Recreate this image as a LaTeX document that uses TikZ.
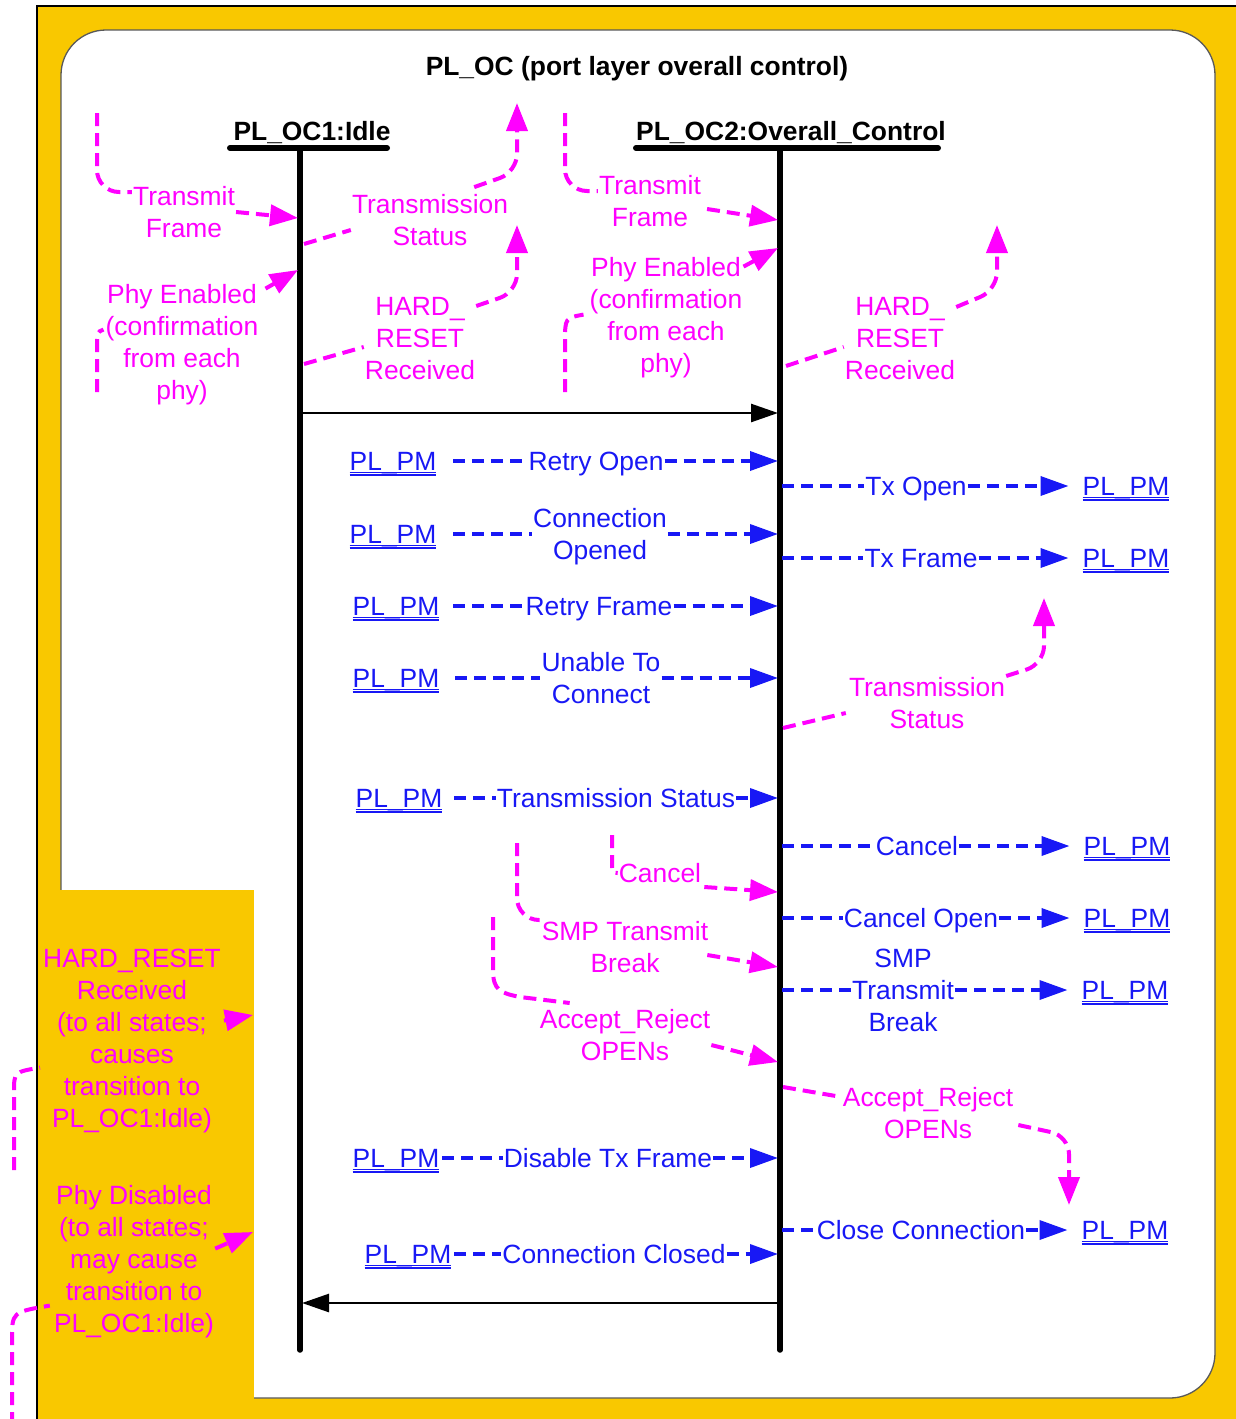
\documentclass[tikz,border=0pt]{standalone}
\usepackage{fontspec}
\setmainfont{Liberation Sans}
\usetikzlibrary{arrows.meta,calc}
\definecolor{ylw}{RGB}{249,200,0}
\definecolor{mag}{RGB}{255,0,255}
\definecolor{blu}{RGB}{24,24,245}
\newcommand\dblu[1]{\setbox0=\hbox{#1}\rlap{\rule[-2.2pt]{\wd0}{1.1pt}}\rlap{\rule[-5pt]{\wd0}{1.1pt}}\box0}
\begin{document}
\begin{tikzpicture}[x=1pt,y=-1pt,
  every node/.style={font=\fontsize{26.4}{32}\selectfont, align=center, inner sep=1pt},
  one/.style={text height=19pt, text depth=0pt},
  mlab/.style={text=mag},
  blab/.style={text=blu},
  pmnode/.style={text=blu, inner sep=0pt, text height=19pt, text depth=0pt},
  ttl/.style={font=\fontsize{26.4}{32}\selectfont\bfseries, text height=19pt, text depth=0pt},
  mline/.style={draw=mag, line width=4pt, dash pattern=on 13pt off 7pt},
  marr/.style={mline, -{Triangle[length=28pt,width=21pt]}},
  bline/.style={draw=blu, line width=3.6pt, dash pattern=on 12pt off 7pt},
  barr/.style={bline, -{Triangle[length=28pt,width=19pt]}},
  life/.style={line width=5.5pt, line cap=round},
  lbar/.style={line width=6pt, line cap=round},
  karr/.style={line width=2.6pt, -{Triangle[length=27pt,width=18pt]}},
]
\useasboundingbox (0,0) rectangle (1236,1419);
\clip (0,0) rectangle (1236,1419);
\fill[white] (0,0) rectangle (1236,1419);
% frames
\filldraw[fill=ylw, draw=black, line width=1.6pt] (37,6) rectangle (1260,1440);
\filldraw[fill=white, draw=black!65, line width=1.3pt, rounded corners=45pt] (61,30) rectangle (1215,1398);
\fill[ylw] (37.9,890) rectangle (254,1430);

% titles
\node[ttl] (t0) at (637,66) {PL\_OC (port layer overall control)};
\node[ttl] (t1) at (312,131) {PL\_OC1:Idle};
\node[ttl] (t2) at (791,131) {PL\_OC2:Overall\_Control};

% lifelines
\coordinate (a0) at (300,148); \coordinate (a1) at (300,1350);
\coordinate (b0) at (780,148); \coordinate (b1) at (780,1350);
\draw[life] (a0) -- (a1);
\draw[life] (b0) -- (b1);
\draw[lbar] (230,148) -- (387,148);
\draw[lbar] (636,148) -- (938,148);

% black transitions
\coordinate (k1) at (302,413); \coordinate (k2) at (778,413);
\coordinate (k3) at (778,1303); \coordinate (k4) at (302,1303);
\draw[karr] (k1) -- (k2);
\draw[karr] (k3) -- (k4);

% ---------- blue messages, left side ----------
\node[pmnode] (p1) at (393,461) {\dblu{PL\_PM}};
\node[blab,one] (r1) at (596,461) {Retry Open};
\coordinate (e1) at (778,461);
\draw[bline, shorten <=17pt] (p1) -- (r1.west |- p1);
\draw[barr] (r1.east |- p1) -- (e1);

\node[pmnode] (p2) at (393,534) {\dblu{PL\_PM}};
\node[blab] (r2) at (600,536.6) {Connection\\Opened};
\coordinate (e2) at (778,534);
\draw[bline, shorten <=17pt] (p2) -- (r2.west |- p2);
\draw[barr] (r2.east |- p2) -- (e2);

\node[pmnode] (p3) at (396,606) {\dblu{PL\_PM}};
\node[blab,one] (r3) at (599,606) {Retry Frame};
\coordinate (e3) at (778,606);
\draw[bline, shorten <=14pt] (p3) -- (r3.west |- p3);
\draw[barr] (r3.east |- p3) -- (e3);

\node[pmnode] (p4) at (396,678) {\dblu{PL\_PM}};
\node[blab] (r4) at (601,678) {Unable To\\Connect};
\coordinate (e4) at (778,678);
\draw[bline, shorten <=16pt] (p4) -- (r4.west |- p4);
\draw[barr] (r4.east |- p4) -- (e4);

\node[pmnode] (p5) at (399,798) {\dblu{PL\_PM}};
\node[blab,one] (r5) at (616,798) {Transmission Status};
\coordinate (e5) at (778,798);
\draw[bline, shorten <=12pt] (p5) -- (r5.west |- p5);
\draw[barr] (r5.east |- p5) -- (e5);

\node[pmnode] (p6) at (396,1158) {\dblu{PL\_PM}};
\node[blab,one] (r6) at (608,1158) {Disable Tx Frame};
\coordinate (e6) at (778,1158);
\draw[bline, shorten <=3pt] (p6) -- (r6.west |- p6);
\draw[barr] (r6.east |- p6) -- (e6);

\node[pmnode] (p7) at (408,1254) {\dblu{PL\_PM}};
\node[blab,one] (r7) at (614,1254) {Connection Closed};
\coordinate (e7) at (778,1254);
\draw[bline, shorten <=3pt] (p7) -- (r7.west |- p7);
\draw[barr] (r7.east |- p7) -- (e7);

% ---------- blue messages, right side ----------
\coordinate (s1) at (782,486);
\node[blab,one] (r8) at (916,486) {Tx Open};
\node[pmnode] (q1) at (1126,486) {\dblu{PL\_PM}};
\draw[bline] (s1) -- (r8.west |- s1);
\draw[barr, shorten >=14pt] (r8.east |- s1) -- (q1);

\coordinate (s2) at (782,558);
\node[blab,one] (r9) at (921,558) {Tx Frame};
\node[pmnode] (q2) at (1126,558) {\dblu{PL\_PM}};
\draw[bline] (s2) -- (r9.west |- s2);
\draw[barr, shorten >=14pt] (r9.east |- s2) -- (q2);

\coordinate (s3) at (782,846);
\node[blab,one] (r10) at (917,846) {Cancel};
\node[pmnode] (q3) at (1127,846) {\dblu{PL\_PM}};
\draw[bline] (s3) -- (r10.west |- s3);
\draw[barr, shorten >=14pt] (r10.east |- s3) -- (q3);

\coordinate (s4) at (782,918);
\node[blab,one] (r11) at (921,918) {Cancel Open};
\node[pmnode] (q4) at (1127,918) {\dblu{PL\_PM}};
\draw[bline] (s4) -- (r11.west |- s4);
\draw[barr, shorten >=14pt] (r11.east |- s4) -- (q4);

\coordinate (s5) at (782,990);
\node[blab] (r12) at (903,990) {SMP\\Transmit\\Break};
\node[pmnode] (q5) at (1125,990) {\dblu{PL\_PM}};
\draw[bline] (s5) -- (r12.west |- s5);
\draw[barr, shorten >=14pt] (r12.east |- s5) -- (q5);

\coordinate (s6) at (782,1230);
\node[blab,one] (r13) at (921,1230) {Close Connection};
\node[pmnode] (q6) at (1125,1230) {\dblu{PL\_PM}};
\draw[bline] (s6) -- (r13.west |- s6);
\draw[barr, shorten >=14pt] (r13.east |- s6) -- (q6);

% ---------- magenta transitions ----------
% M1
\node[mlab] (m1) at (184,212) {Transmit\\Frame};
\coordinate (m1s) at (97,113); \coordinate (m1e) at (298,218);
\draw[mline, rounded corners=22pt] (m1s) |- ($(m1.west)+(0,-20)$);
\draw[marr] (m1.east) -- (m1e);
% M2
\node[mlab] (m2) at (430,220) {Transmission\\Status};
\coordinate (m2s) at (304,244); \coordinate (m2e) at (517,103);
\draw[mline] (m2s) -- ($(m2.west)+(0,10)$);
\draw[marr, rounded corners=18pt] ($(m2.north east)+(-35,-6)$) -- (517,172) -- (m2e);
% M3
\node[mlab] (m3) at (182,344.6) {Phy Enabled\\(confirmation\\from each\\phy)};
\coordinate (m3s) at (97,392); \coordinate (m3e) at (298,270);
\draw[mline] (m3s) -- (97,348) .. controls (97,332) .. ($(m3.west)+(-1,-15)$);
\draw[marr] ($(m3.east)+(6,-56)$) -- (m3e);
% M4
\node[mlab] (m4) at (420,339) {HARD\_\\RESET\\Received};
\coordinate (m4s) at (304,364); \coordinate (m4e) at (517,225);
\draw[mline] (m4s) -- ($(m4.west)+(0,8)$);
\draw[marr, rounded corners=18pt] ($(m4.east)+(0,-33)$) -- (517,292) -- (m4e);
% M5
\node[mlab] (m5) at (650,201) {Transmit\\Frame};
\coordinate (m5s) at (565,113); \coordinate (m5e) at (778,220);
\draw[mline, rounded corners=22pt] (m5s) |- ($(m5.west)+(0,-10)$);
\draw[marr] ($(m5.east)+(5,8)$) -- (m5e);
% M6
\node[mlab] (m6) at (666,317.6) {Phy Enabled\\(confirmation\\from each\\phy)};
\coordinate (m6s) at (565,392); \coordinate (m6e) at (778,248);
\draw[mline] (m6s) -- (565,342) .. controls (565,318) .. ($(m6.west)+(-5,-3)$);
\draw[marr] ($(m6.east)+(0,-51)$) -- (m6e);
% M7
\node[mlab] (m7) at (900,339) {HARD\_\\RESET\\Received};
\coordinate (m7s) at (786,366); \coordinate (m7e) at (997,225);
\draw[mline] (m7s) -- ($(m7.west)+(0,8)$);
\draw[marr, rounded corners=18pt] ($(m7.east)+(0,-32)$) -- (997,290) -- (m7e);
% M8
\node[mlab] (m8) at (927,703) {Transmission\\Status};
\coordinate (m8s) at (783,728); \coordinate (m8e) at (1044,598);
\draw[mline] (m8s) -- ($(m8.west)+(-2,10)$);
\draw[marr, rounded corners=18pt] ($(m8.east)+(0,-27)$) -- (1044,664) -- (m8e);
% M9
\node[mlab,one] (m9) at (660,873) {Cancel};
\coordinate (m9s) at (612,835); \coordinate (m9e) at (778,892);
\draw[mline] (m9s) -- (612,864) .. controls (612,873) .. (m9.west);
\draw[marr] ($(m9.east)+(2,14)$) -- (m9e);
% M10
\node[mlab] (m10) at (625,947) {SMP Transmit\\Break};
\coordinate (m10s) at (517,843); \coordinate (m10e) at (778,967);
\draw[mline, rounded corners=22pt] (m10s) |- ($(m10.west)+(-1,-27)$);
\draw[marr] ($(m10.east)+(-2,8)$) -- (m10e);
% M11
\node[mlab] (m11) at (625,1035) {Accept\_Reject\\OPENs};
\coordinate (m11s) at (493,917); \coordinate (m11e) at (778,1062);
\draw[mline] (m11s) -- (493,970) .. controls (493,990) and (500,993) .. (520,997) -- ($(m11.west)+(31,-32)$);
\draw[marr] ($(m11.east)+(0,10)$) -- (m11e);
% M12
\node[mlab] (m12) at (928,1113) {Accept\_Reject\\OPENs};
\coordinate (m12s) at (783,1087); \coordinate (m12e) at (1069,1205);
\draw[mline] (m12s) -- ($(m12.west)+(0,-16)$);
\draw[marr, rounded corners=18pt] ($(m12.east)+(4,12)$) -- (1069,1136) -- (m12e);
% M13
\node[mlab] (m13) at (132,1040.6) {HARD\_RESET\\Received\\(to all states;\\causes\\transition to\\PL\_OC1:Idle)};
\coordinate (m13s) at (14,1170); \coordinate (m13e) at (253,1015);
\draw[mline] (m13s) -- (14,1092) .. controls (14,1072) .. ($(m13.west)+(-2,27)$);
\draw[marr] ($(m13.east)+(2,-20)$) -- (m13e);
% M14
\node[mlab] (m14) at (134,1261.6) {Phy Disabled\\(to all states;\\may cause\\transition to\\PL\_OC1:Idle)};
\coordinate (m14s) at (12,1425); \coordinate (m14e) at (253,1232);
\draw[mline] (m14s) -- (12,1340) .. controls (12,1312) .. ($(m14.west)+(-3,44)$);
\draw[marr] ($(m14.east)+(0,-13)$) -- (m14e);
\end{tikzpicture}
\end{document}
